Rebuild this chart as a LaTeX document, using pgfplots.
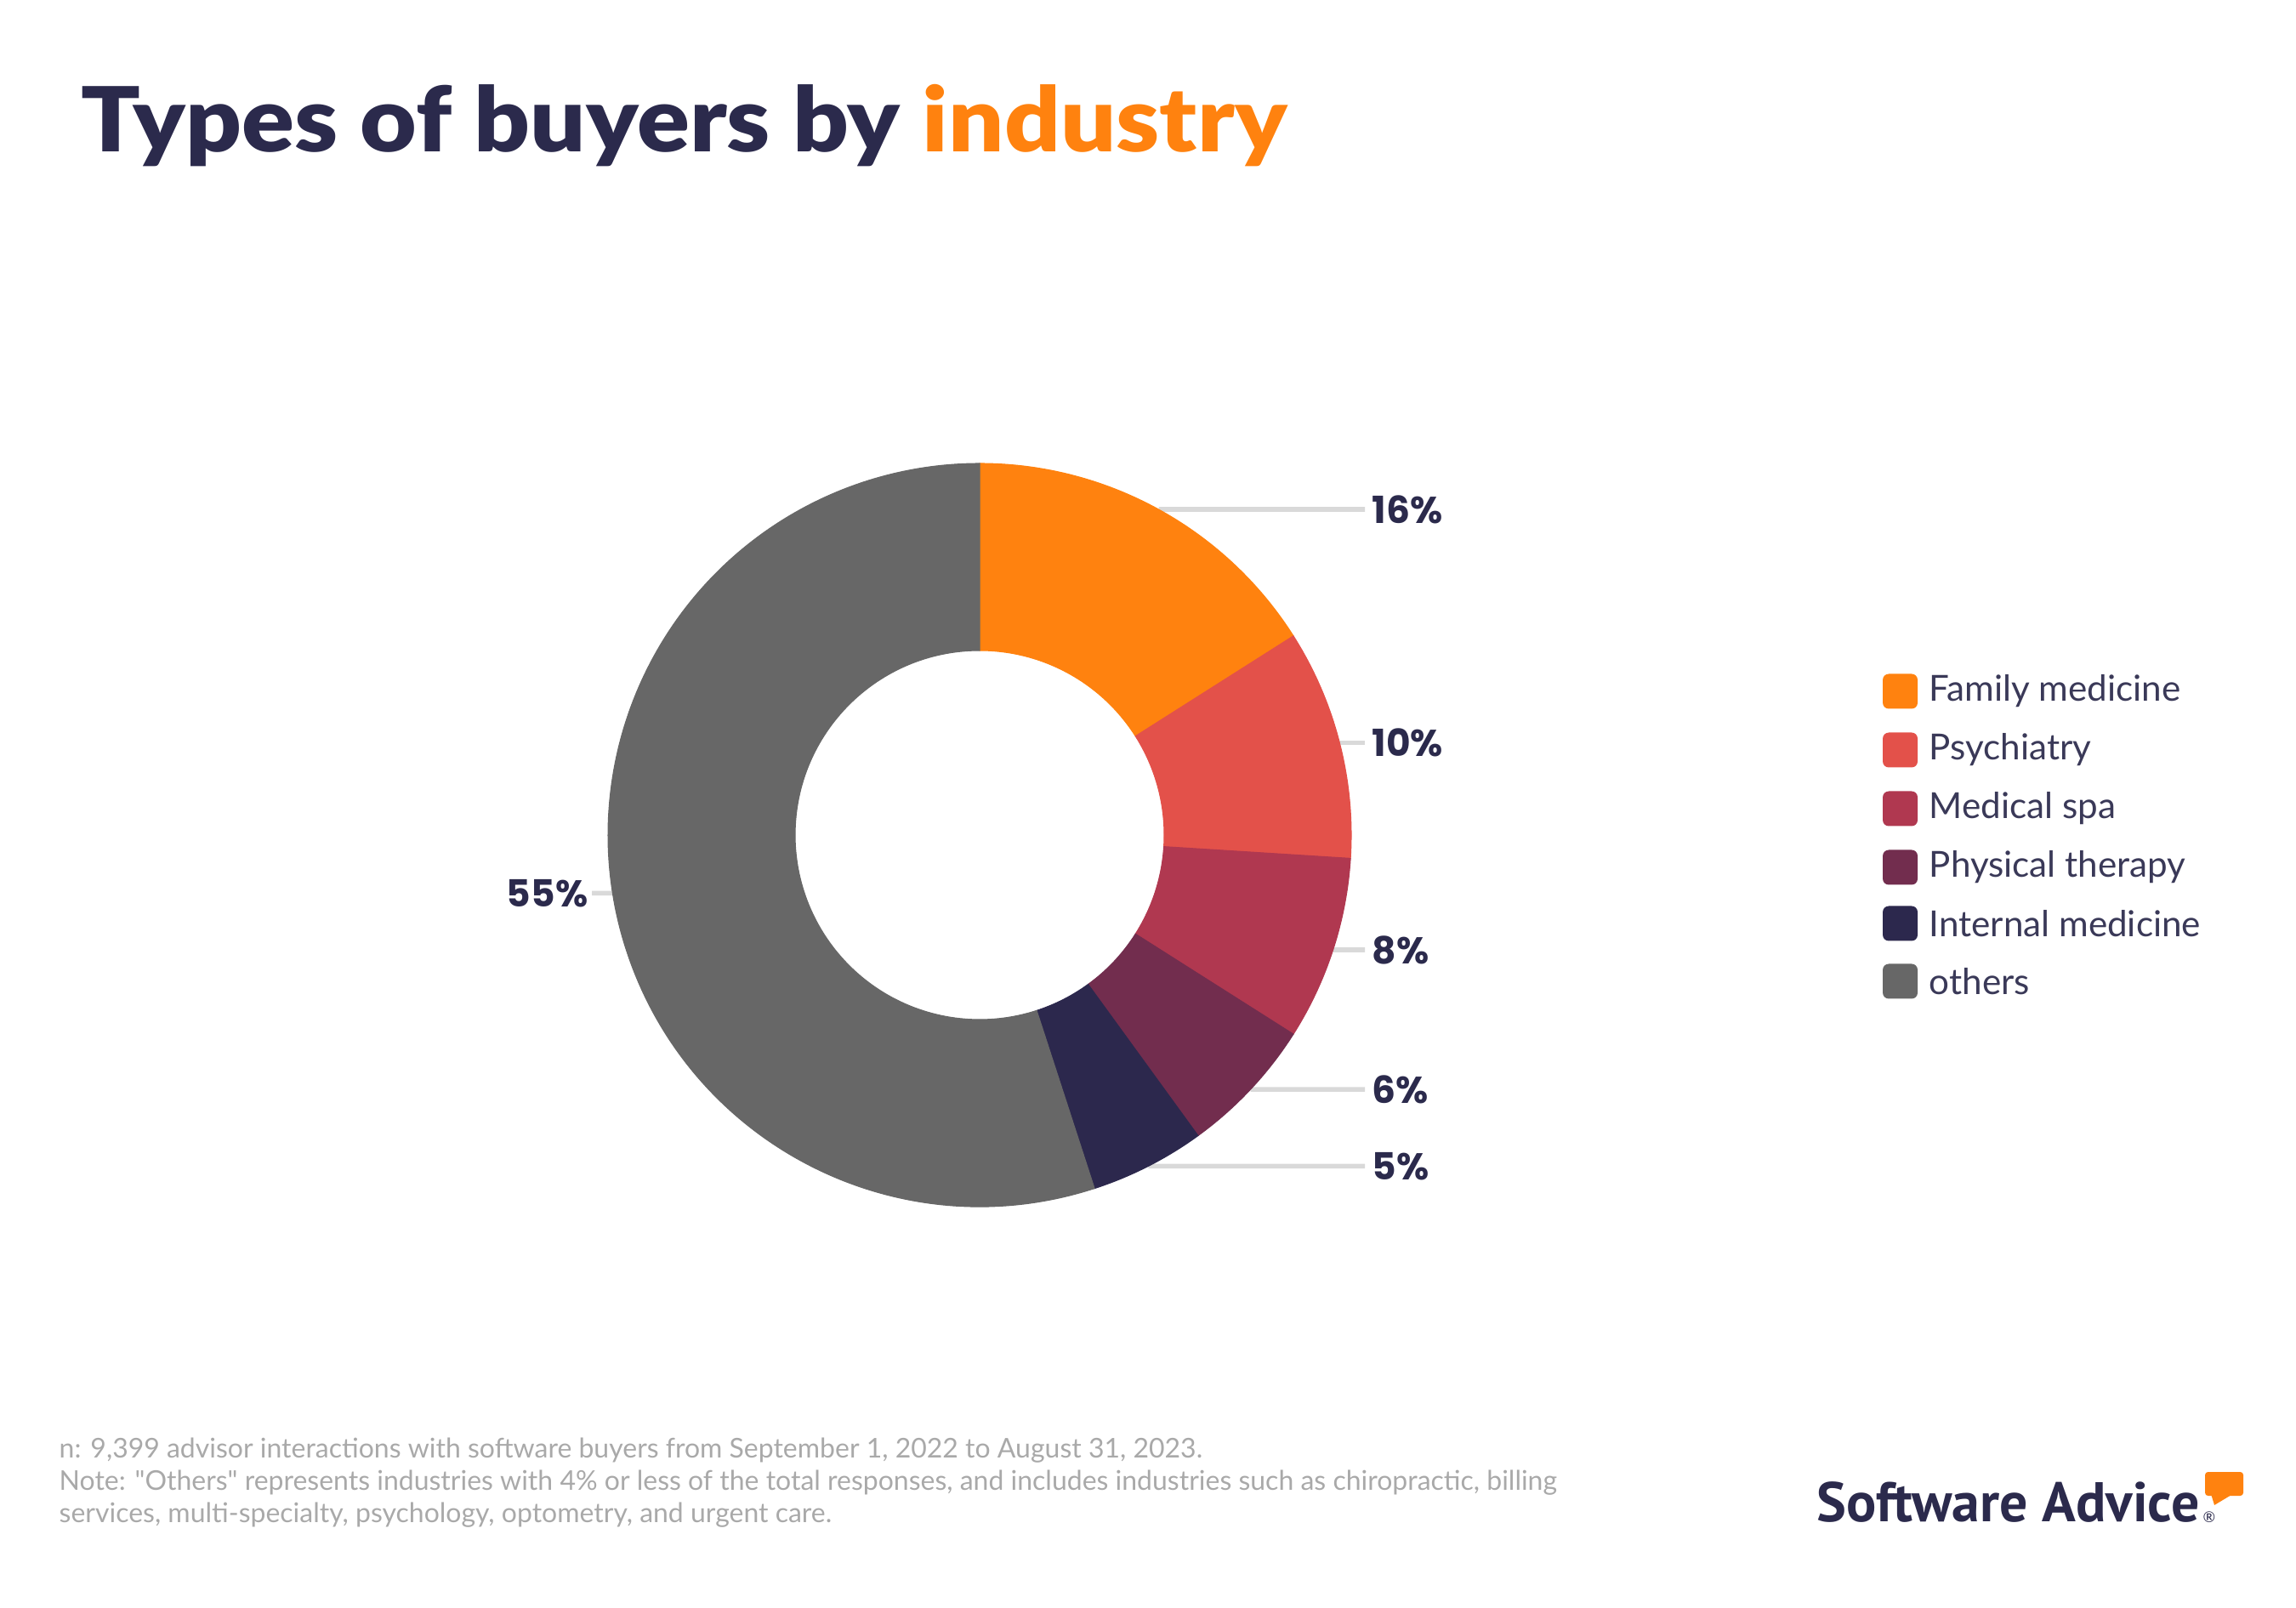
\documentclass[border=0pt]{standalone}
\usepackage{pgfplots}
\pgfplotsset{compat=1.18}
\usepackage{fontspec}
\setmainfont{Lato}[Ligatures=TeXOff]
\newfontfamily\titlefont{Lato Black}[FakeStretch=1.09]
\newfontfamily\labfont{Poppins}
\newfontfamily\logofont{PT Sans}
\definecolor{cA}{HTML}{FF820F}
\definecolor{cB}{HTML}{E3514A}
\definecolor{cC}{HTML}{B03850}
\definecolor{cD}{HTML}{722D4E}
\definecolor{cE}{HTML}{2C284D}
\definecolor{cF}{HTML}{676767}
\definecolor{dark}{HTML}{2B2A4C}
\definecolor{legtext}{HTML}{3A3958}
\definecolor{foot}{HTML}{A9A9A9}
\definecolor{leader}{HTML}{D9D9D9}
% data: share of buyers (%)
\def\vA{16}\def\vB{10}\def\vC{8}\def\vD{6}\def\vE{5}\def\vF{55}
\def\cx{11.52}\def\cy{9.08}
\pgfmathsetmacro\aA{90}
\pgfmathsetmacro\aB{\aA-3.6*\vA}
\pgfmathsetmacro\aC{\aB-3.6*\vB}
\pgfmathsetmacro\aD{\aC-3.6*\vC}
\pgfmathsetmacro\aE{\aD-3.6*\vD}
\pgfmathsetmacro\aF{\aE-3.6*\vE}
\pgfmathsetmacro\aG{\aF-3.6*\vF}
\pgfmathsetmacro\mA{\aA-1.8*\vA}\pgfmathsetmacro\lyA{\cy+4.37*sin(\mA)}
\pgfmathsetmacro\mB{\aB-1.8*\vB}\pgfmathsetmacro\lyB{\cy+4.37*sin(\mB)}
\pgfmathsetmacro\mC{\aC-1.8*\vC}\pgfmathsetmacro\lyC{\cy+4.37*sin(\mC)}
\pgfmathsetmacro\mD{\aD-1.8*\vD}\pgfmathsetmacro\lyD{\cy+4.37*sin(\mD)}
\pgfmathsetmacro\mE{\aE-1.8*\vE}\pgfmathsetmacro\lyE{\cy+4.37*sin(\mE)}
\pgfmathsetmacro\mF{\aF-1.8*\vF}\pgfmathsetmacro\lyF{\cy+4.37*sin(\mF)}
\newcommand\donutslice[3]{\fill[#3,draw=#3,line width=0.3pt] (axis cs:\cx,\cy) ++(#1:4.37cm) arc[start angle=#1,end angle=#2,radius=4.37cm] -- ++({#2+180}:2.2cm) arc[start angle=#2,end angle=#1,radius=2.17cm] -- cycle;}
\newcommand\leaderline[2]{\draw[leader,line width=1.6pt] (axis cs:\cx,\cy) ++(#1:4.37cm) -- (axis cs:#2);}
\tikzset{lab/.style={inner sep=0pt,text=dark,font=\labfont\bfseries\fontsize{12.5}{14}\selectfont},
leg/.style={anchor=west,inner sep=0pt,text=legtext,font=\fontsize{12}{14}\selectfont},
foot/.style={anchor=base west,inner sep=0pt,text=foot,font=\fontsize{9.1}{11}\selectfont}}
\newcommand\legrow[3]{\fill[#1,rounded corners=2pt] (axis cs:22.14,#2-0.205) rectangle (axis cs:22.55,#2+0.205);
\node[leg] at (axis cs:22.68,#2) {#3};}
\begin{document}
\begin{tikzpicture}
\path[use as bounding box] (0,0) rectangle (27,18.9);
\begin{axis}[at={(0,0)},anchor=south west,x=1cm,y=1cm,xmin=0,xmax=27,ymin=0,ymax=18.9,hide axis,clip=false]
% leader lines
\leaderline{\mA}{16.05,\lyA}
\leaderline{\mB}{16.05,\lyB}
\leaderline{\mC}{16.05,\lyC}
\leaderline{\mD}{16.05,\lyD}
\leaderline{\mE}{16.05,\lyE}
\leaderline{\mF}{6.96,\lyF}
% slices
\donutslice{\aA}{\aB}{cA}
\donutslice{\aB}{\aC}{cB}
\donutslice{\aC}{\aD}{cC}
\donutslice{\aD}{\aE}{cD}
\donutslice{\aE}{\aF}{cE}
\donutslice{\aF}{\aG}{cF}
% labels
\node[lab,anchor=west] at (axis cs:16.13,\lyA) {\vA\%};
\node[lab,anchor=west] at (axis cs:16.13,\lyB) {\vB\%};
\node[lab,anchor=west] at (axis cs:16.13,\lyC) {\vC\%};
\node[lab,anchor=west] at (axis cs:16.13,\lyD) {\vD\%};
\node[lab,anchor=west] at (axis cs:16.13,\lyE) {\vE\%};
\node[lab,anchor=east] at (axis cs:6.92,\lyF) {\vF\%};
% legend
\legrow{cA}{10.77}{Family medicine}
\legrow{cB}{10.08}{Psychiatry}
\legrow{cC}{9.39}{Medical spa}
\legrow{cD}{8.70}{Physical therapy}
\legrow{cE}{8.04}{Internal medicine}
\legrow{cF}{7.36}{others}
\end{axis}
% title
\node[anchor=base west,inner sep=0pt,font=\titlefont\fontsize{30}{36}\selectfont,text=dark] at (0.95,17.11) {Types of buyers by \textcolor{cA}{industry}};
% footer
\node[foot] at (0.69,1.76) {n: 9,399 advisor interactions with software buyers from September 1, 2022 to August 31, 2023.};
\node[foot] at (0.69,1.38) {Note: "Others" represents industries with 4\% or less of the total responses, and includes industries such as chiropractic, billing};
\node[foot] at (0.69,1.00) {services, multi-specialty, psychology, optometry, and urgent care.};
% logo
\node[anchor=base west,inner sep=0pt,font=\logofont\bfseries\fontsize{18.7}{22}\selectfont,text=dark] at (21.36,1.01) {Software Advice};
\node[anchor=base west,inner sep=0pt,font=\fontsize{5}{6}\selectfont,text=dark] at (25.90,1.00) {®};
\fill[cA,rounded corners=1pt] (25.93,1.31) rectangle (26.38,1.59);
\fill[cA] (26.00,1.33) -- (26.04,1.20) -- (26.24,1.32) -- cycle;
\end{tikzpicture}
\end{document}
